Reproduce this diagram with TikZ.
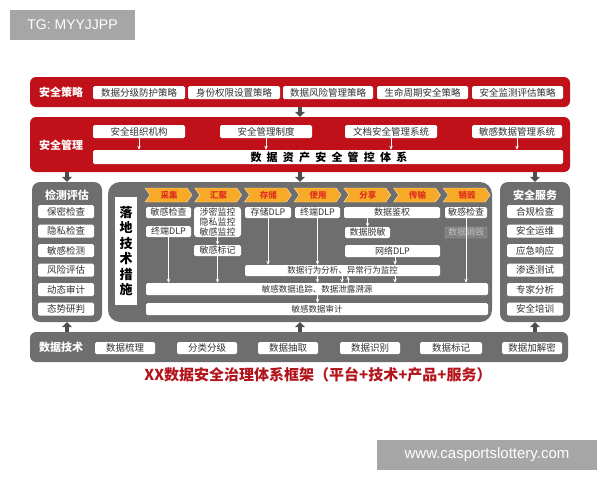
\documentclass[tikz,border=0pt]{standalone}
\usepackage{fontspec}
\setmainfont{Noto Sans CJK SC}
\newfontfamily\wmfont{Liberation Sans}
\usepackage{tikz}
\usetikzlibrary{arrows.meta}
\usetikzlibrary{calc}

\definecolor{bandred}{HTML}{C0111A}
\definecolor{panelgray}{HTML}{6E6E6E}
\definecolor{arrowgray}{HTML}{4D4D4D}
\definecolor{stagefill}{HTML}{F7A928}
\definecolor{stagetext}{HTML}{E0301E}
\definecolor{titlered}{HTML}{B3141C}
\definecolor{wmgray}{HTML}{A6A6A6}
\definecolor{boxtext}{HTML}{333333}

% box from corner (x1,y1) to (x2,y2), picture coordinates in px
\newcommand{\bx}[7][]{%
  \pgfmathsetmacro\bxw{#5-#3}\pgfmathsetmacro\bxh{#6-#4}%
  \node[box, minimum width=\bxw pt, minimum height=\bxh pt, #1] (#2)
    at ({(#3+#5)/2}, {(#4+#6)/2}) {#7};}

\begin{document}
\begin{tikzpicture}[x=1pt, y=-1pt,
    box/.style={fill=white, rounded corners=1.5pt, inner sep=0pt, align=center,
      text=boxtext, font=\fontsize{9.5}{9.5}\selectfont},
    small/.style={font=\fontsize{9}{10}\selectfont},
    band/.style={fill=bandred, rounded corners=6pt},
    panel/.style={fill=panelgray, rounded corners=8pt},
    head/.style={text=white, font=\fontsize{11}{11}\selectfont\bfseries},
    stage/.style={fill=stagefill, draw=white!70!stagefill, line width=0.4pt},
    stagelbl/.style={text=stagetext, font=\fontsize{8.5}{8.5}\selectfont\bfseries},
    spaced/.style={text=black, font=\fontsize{11}{11}\selectfont\bfseries},
    warr/.style={draw=white, line width=0.9pt, -{Stealth[length=4pt,width=3.5pt]}},
    darr/.style={draw=arrowgray, line width=3.5pt, -{Triangle[width=10pt,length=5pt]}},
    wm/.style={fill=wmgray, text=white, rounded corners=0pt,
      font=\wmfont\fontsize{14}{14}\selectfont}]

  \useasboundingbox (0,0) rectangle (600,480);

  \bx[wm]{tg}{10}{10}{135}{40}{TG: MYYJJPP}
  \bx[wm, font=\wmfont\fontsize{15}{15}\selectfont]{url}{377}{440}{597}{470}{www.casportslottery.com}

  % policy band
  \bx[band]{pol}{30}{77}{570}{107}{}
  \node[head] (polh) at (61,92) {安全策略};
  \bx{p1}{93}{86}{185}{99}{数据分级防护策略}
  \bx{p2}{188}{86}{280}{99}{身份权限设置策略}
  \bx{p3}{283}{86}{373}{99}{数据风险管理策略}
  \bx{p4}{377}{86}{468}{99}{生命周期安全策略}
  \bx{p5}{472}{86}{563}{99}{安全监测评估策略}

  % management band
  \bx[band]{mgt}{30}{117}{570}{172}{}
  \node[head] (mgth) at (61,145) {安全管理};
  \bx{m1}{93}{125}{185}{138}{安全组织机构}
  \bx{m2}{220}{125}{312}{138}{安全管理制度}
  \bx{m3}{345}{125}{437}{138}{文档安全管理系统}
  \bx{m4}{472}{125}{562}{138}{敏感数据管理系统}
  \bx{ms}{93}{150}{563}{164}{}
  \foreach \c [count=\i] in {数,据,资,产,安,全,管,控,体,系}
    \node[spaced] (ms\i) at ({256+16.2*(\i-1)},157) {\c};
  \foreach \m in {m1,m2,m3,m4}
    \draw[warr] (\m.south) -- (\m.south |- ms.north);

  % side panels
  \bx[panel]{lp}{32}{182}{102}{322}{}
  \node[head] (lph) at (67,195) {检测评估};
  \bx[panel]{rp}{500}{182}{570}{322}{}
  \node[head] (rph) at (535,195) {安全服务};
  \foreach \a/\b [count=\i] in {保密检查/合规检查, 隐私检查/安全运维, 敏感检测/应急响应,
      风险评估/渗透测试, 动态审计/专家分析, 态势研判/安全培训} {
    \pgfmathsetmacro\ly{205+19.5*(\i-1)}
    \bx{l\i}{38}{\ly}{94}{\ly+13}{\a}
    \bx{r\i}{507}{\ly}{563}{\ly+13}{\b}
  }

  % technical measures
  \bx[panel, rounded corners=12pt]{cp}{108}{182}{492}{322}{}
  \bx[font=\fontsize{13}{15.5}\selectfont\bfseries, text=black, rounded corners=0pt]{lt}{115}{197}{137}{305}
    {落\\地\\技\\术\\措\\施}
  \foreach \s [count=\i] in {采集,汇聚,存储,使用,分享,传输,销毁} {
    \pgfmathsetmacro\sx{145+49.7*(\i-1)}
    \draw[stage] (\sx,188) -- ++(42,0) -- ++(5,7) -- ++(-5,7) -- ++(-42,0) -- ++(5,-7) -- cycle;
    \node[stagelbl] (st\i) at ({\sx+24},195) {\s};
  }
  \bx[small]{c1a}{146}{207}{191}{218}{敏感检查}
  \bx[small]{c1b}{146}{226}{191}{237}{终端DLP}
  \bx[small, rounded corners=3pt]{c2a}{194}{207}{241}{237}{涉密监控\\隐私监控\\敏感监控}
  \bx[small]{c2b}{194}{245}{241}{256}{敏感标记}
  \bx[small]{c3a}{245}{207}{291}{218}{存储DLP}
  \bx[small]{c4a}{295}{207}{340}{218}{终端DLP}
  \bx[small]{c5a}{344}{207}{440}{218}{数据鉴权}
  \bx[small]{c5b}{345}{227}{390}{238}{数据脱敏}
  \bx[small]{net}{345}{245}{440}{257}{网络DLP}
  \bx[small]{c7a}{445}{207}{487}{218}{敏感检查}
  \bx[small, fill=white!12!panelgray, draw=white!45!panelgray, line width=0.4pt,
    text=white!55!panelgray]{c7b}{445}{227}{487}{238}{数据销毁}
  \bx[font=\fontsize{8.5}{8.5}\selectfont]{ana}{245}{265}{440}{276}{数据行为分析、异常行为监控}
  \bx[font=\fontsize{8.5}{8.5}\selectfont]{trk}{146}{283}{488}{295}{敏感数据追踪、数据泄露溯源}
  \bx[font=\fontsize{8.5}{8.5}\selectfont]{aud}{146}{303}{488}{315}{敏感数据审计}

  \coordinate (d1) at (342,0);
  \coordinate (u1) at (348,0);
  \coordinate (n1) at (395,0);
  \draw[warr] (c1b.south) -- (c1b.south |- trk.north);
  \draw[warr] (c2a.south) -- (c2b.north);
  \draw[warr] (c2b.south) -- (c2b.south |- trk.north);
  \draw[warr] (c3a.south) -- (c3a.south |- ana.north);
  \draw[warr] (c4a.south) -- (c4a.south |- ana.north);
  \draw[warr] (c4a.south |- ana.south) -- (c4a.south |- trk.north);
  \draw[warr] (c4a.south |- trk.south) -- (c4a.south |- aud.north);
  \draw[warr] (d1 |- ana.south) -- (d1 |- trk.north);
  \draw[warr] (u1 |- trk.north) -- (u1 |- ana.south);
  \draw[warr] (c5b.north |- c5a.south) -- (c5b.north);
  \draw[warr] (n1 |- net.south) -- (n1 |- ana.north);
  \draw[warr] (n1 |- ana.south) -- (n1 |- trk.north);
  \draw[warr] (c7a.south) -- (c7a.south |- trk.north);

  % technology band
  \bx[band, fill=panelgray]{tech}{30}{332}{568}{362}{}
  \node[head] (techh) at (61,347) {数据技术};
  \bx{t1}{95}{342}{155}{354}{数据梳理}
  \bx{t2}{177}{342}{237}{354}{分类分级}
  \bx{t3}{258}{342}{318}{354}{数据抽取}
  \bx{t4}{340}{342}{400}{354}{数据识别}
  \bx{t5}{420}{342}{482}{354}{数据标记}
  \bx{t6}{502}{342}{562}{354}{数据加解密}

  % block arrows between layers
  \draw[darr] (pol.south) -- (mgt.north);
  \foreach \p in {lp,cp,rp} {
    \draw[darr] (mgt.south -| \p.north) -- (\p.north);
    \draw[darr] (tech.north -| \p.south) -- (\p.south);
  }

  \node[text=titlered, font=\fontsize{15}{15}\selectfont\bfseries] (title) at (318,375)
    {XX数据安全治理体系框架（平台+技术+产品+服务）};

\end{tikzpicture}
\end{document}
